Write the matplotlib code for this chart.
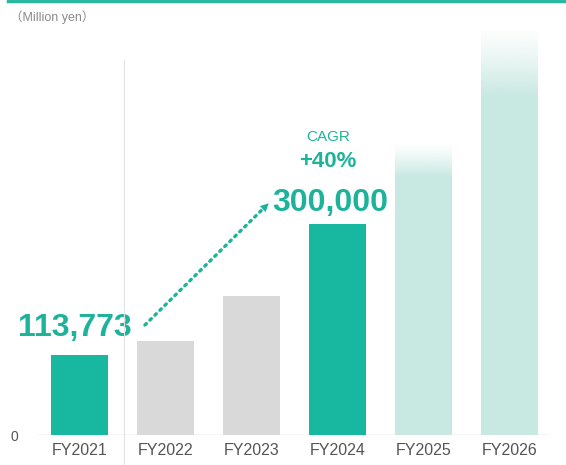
import numpy as np
import matplotlib
matplotlib.use("Agg")
import matplotlib.pyplot as plt
from matplotlib.colors import to_rgb
from matplotlib.lines import Line2D

years = ["FY2021", "FY2022", "FY2023", "FY2024", "FY2025", "FY2026"]
values = [113773, 133000, 197000, 300000, 412000, 575000]
fade_len = [0, 0, 0, 0, 45000, 95000]
bar_colors = ["#17b89f", "#d9d9d9", "#d9d9d9", "#17b89f", "#c8e8e2", "#c8e8e2"]

teal = "#1db39b"
grey_txt = "#555555"
plt.rcParams["font.family"] = ["Liberation Sans", "Noto Sans CJK JP", "DejaVu Sans"]

fig = plt.figure(figsize=(5.66, 4.65), dpi=100)
ax = fig.add_axes([38 / 566, 30 / 465, 512 / 566, 435 / 465])

x = np.arange(len(years))
w = 0.66
for i, (v, f, c) in enumerate(zip(values, fade_len, bar_colors)):
    ax.bar(x[i], v - f, width=w, color=c, zorder=2)
    if f:
        rgb = to_rgb(c)
        grad = np.ones((100, 1, 4))
        grad[:, 0, :3] = rgb
        grad[:, 0, 3] = np.linspace(1.0, 0.1, 100) ** 1.3
        ax.imshow(grad, extent=[x[i] - w / 2, x[i] + w / 2, v - f, v],
                  origin="lower", aspect="auto", zorder=2, interpolation="bilinear")

ax.set_xlim(-0.483, 5.47)
ax.set_ylim(0, 617700)
for s in ax.spines.values():
    s.set_visible(False)
ax.axhline(0, color="#d6d6d6", lw=1, zorder=1)
ax.set_xticks(x)
ax.set_xticklabels(years, fontsize=11.5, color=grey_txt)
ax.set_yticks([0])
ax.set_yticklabels(["0"], fontsize=10, color=grey_txt)
ax.tick_params(length=0, pad=6)
ax.tick_params(axis="y", pad=14)

# divider between actual and plan years
fig.add_artist(Line2D([124 / 566, 124 / 566], [0, 405 / 465], color="#e2e2e2", lw=0.8))
# top accent rule
fig.add_artist(Line2D([8 / 566, 1], [1 - 1.5 / 465, 1 - 1.5 / 465], color="#2cb8a0", lw=2.5))
fig.text(10 / 566, 1 - 17 / 465, "（Million yen）", fontsize=9, color="#8a8a8a",
         va="center", ha="left")

# labels and growth arrow
ax.text(-0.06, 152000, "113,773", fontsize=23, fontweight="bold", color=teal,
        ha="center", va="center", zorder=3)
ax.text(2.91, 330000, "300,000", fontsize=23, fontweight="bold", color=teal,
        ha="center", va="center", zorder=3)
ax.text(2.89, 423000, "CAGR", fontsize=11, color=teal, ha="center", va="center")
ax.text(2.89, 387700, "+40%", fontsize=16, fontweight="bold", color=teal,
        ha="center", va="center")

x0, y0, x1, y1 = 0.76, 156200, 2.14, 322000
ax.plot([x0, x1], [y0, y1], color=teal, lw=2.4, ls=(0, (0.6, 1.5)),
        dash_capstyle="round", zorder=3)
ax.annotate("", xy=(2.20, 329000), xytext=(2.11, 318500),
            arrowprops=dict(arrowstyle="-|>,head_length=0.6,head_width=0.3",
                            color=teal, lw=0, shrinkA=0, shrinkB=0), zorder=3)

fig.savefig("out.png", dpi=100, facecolor="white")
